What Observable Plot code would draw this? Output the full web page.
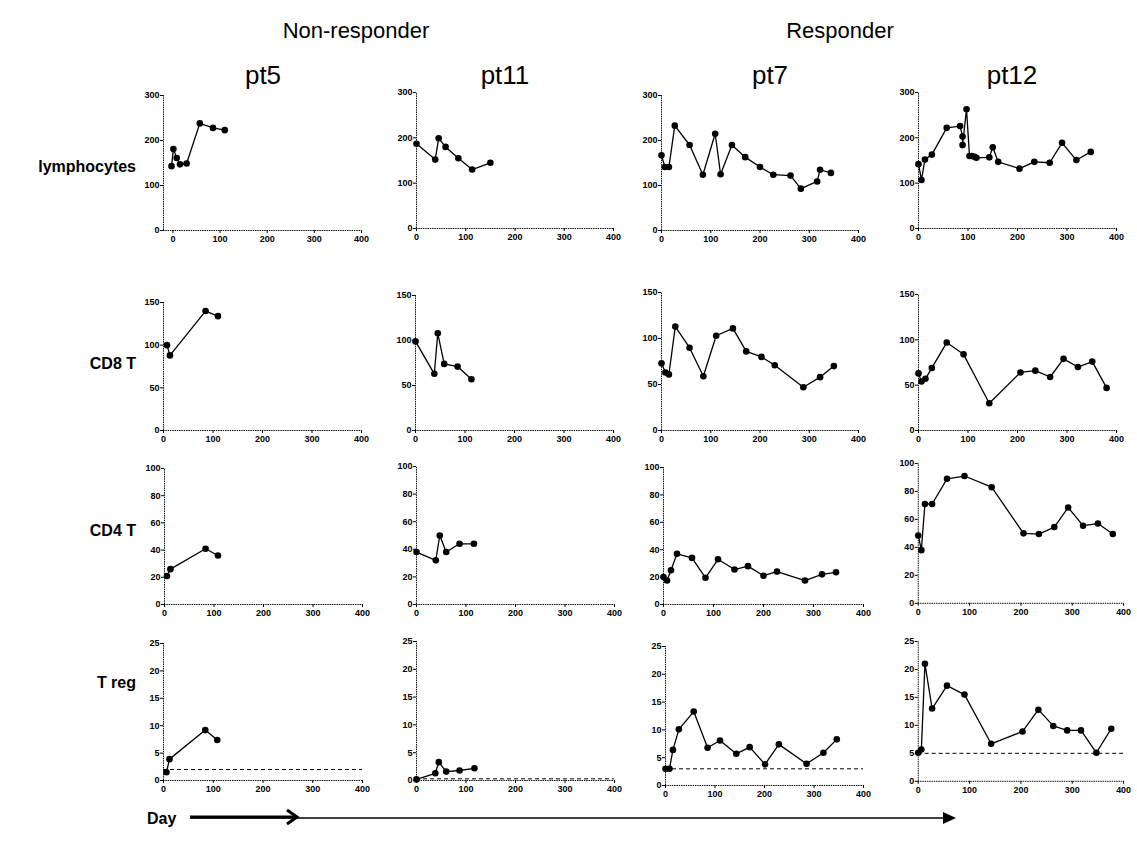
<!DOCTYPE html>
<html><head><meta charset="utf-8">
<script src="https://cdn.jsdelivr.net/npm/d3@7"></script>
<script src="https://cdn.jsdelivr.net/npm/@observablehq/plot@0.6"></script>
<style>
body{margin:0;background:#fff;}
#root{position:relative;width:1137px;height:850px;overflow:hidden;font-family:Arial,"Liberation Sans",sans-serif;}
.pnl{position:absolute;}
#overlay{position:absolute;left:0;top:0;}
</style></head><body><div id="root"></div>
<script>
// ---------- data ----------
const groups = ["Non-responder", "Responder"];
const patients = ["pt5", "pt11", "pt7", "pt12"];
const measures = ["lymphocytes", "CD8 T", "CD4 T", "T reg"];
const xTicks = [0, 100, 200, 300, 400];
const yTicksLymph = [0, 100, 200, 300];
const yTicksCD8 = [0, 50, 100, 150];
const yTicksCD4 = [0, 20, 40, 60, 80, 100];
const yTicksTreg = [0, 5, 10, 15, 20, 25];
const tregBaseline = [2.0, 0.3, 3.0, 5.0]; // pt5, pt11, pt7, pt12

// [day, value]
const pt5Lymph = [[-3,143],[1,181],[8,161],[15,147],[29,149],[57,238],[85,228],[110,223]];
const pt11Lymph = [[0,187],[38,152],[45,199],[59,180],[85,155],[113,130],[150,145]];
const pt7Lymph = [[0,167],[7,141],[15,141],[27,233],[57,190],[84,124],[109,215],[120,125],[143,190],[170,163],[200,141],[227,124],[262,122],[283,93],[316,109],[322,135],[344,128]];
const pt12Lymph = [[0,142],[6,107],[13,152],[27,163],[57,222],[84,226],[89,203],[89,184],[97,263],[103,160],[108,160],[113,158],[117,156],[143,157],[150,179],[161,147],[204,132],[234,147],[265,145],[290,189],[319,151],[348,169]];

const pt5CD8 = [[7,100],[13,88],[85,140],[110,134]];
const pt11CD8 = [[0,99],[38,63],[45,108],[58,74],[85,71],[113,57]];
const pt7CD8 = [[0,73],[8,63],[15,61],[28,113],[57,90],[85,59],[111,103],[145,111],[172,86],[203,80],[230,71],[288,47],[322,58],[350,70]];
const pt12CD8 = [[0,63],[6,54],[14,57],[27,69],[57,97],[91,84],[143,30],[206,64],[236,66],[266,59],[293,79],[322,70],[351,76],[380,47]];

const pt5CD4 = [[5,21],[12,26],[83,41],[108,36]];
const pt11CD4 = [[0,38],[39,32],[47,50],[60,38],[87,44],[116,44]];
const pt7CD4 = [[0,20],[7,17.5],[15,25],[27,37],[57,34],[84,19.5],[109,33],[142,25.5],[169,28],[200,21],[227,24],[283,17.5],[317,22],[345,23.5]];
const pt12CD4 = [[0,48.5],[6,38],[13,71],[27,71],[56,89],[90,91],[143,83],[205,50],[235,49.5],[265,54.5],[292,68.5],[321,55.5],[350,57],[379,49.5]];

const pt5Treg = [[6,1.5],[12,3.9],[84,9.2],[108,7.4]];
const pt11Treg = [[0,0.2],[38,1.3],[45,3.3],[60,1.6],[87,1.8],[117,2.2]];
const pt7Treg = [[0,3.0],[8,3.0],[15,6.4],[27,10.1],[57,13.3],[85,6.8],[110,8.1],[143,5.7],[170,6.9],[201,3.8],[229,7.4],[285,3.9],[319,5.9],[346,8.3]];
const pt12Treg = [[0,5.1],[6,5.7],[13,21],[27,13],[56,17.1],[90,15.5],[142,6.7],[203,8.9],[234,12.8],[263,9.9],[290,9.1],[317,9.1],[347,5.1],[376,9.4]];

// ---------- layout (pixel boxes of each panel's plotting frame) ----------
const rowsData = [
  [pt5Lymph, pt11Lymph, pt7Lymph, pt12Lymph],
  [pt5CD8, pt11CD8, pt7CD8, pt12CD8],
  [pt5CD4, pt11CD4, pt7CD4, pt12CD4],
  [pt5Treg, pt11Treg, pt7Treg, pt12Treg]
];
const rowTicks = [yTicksLymph, yTicksCD8, yTicksCD4, yTicksTreg];
const boxes = [ // [left, right, top, bottom]
  [[163,361,95,230],[416,613,92,228],[661,858,95,230],[918,1116,92,228]],
  [[163,361,302,430],[415,613,295,430],[661,858,292,430],[918,1116,294,430]],
  [[164,362,468,604],[416,614,466,604],[663,863,467,604],[918,1125,463,604]],
  [[163,362,643,780],[416,614,641,780],[665,863,646,785],[918,1125,641,782]]
];
const xMins = [[-20,0,0,0],[0,0,0,0],[0,0,0,0],[0,0,0,0]];

const root = document.getElementById("root");
const font = 'Arial, "Liberation Sans", sans-serif';

function panel(data, box, xMin, yT, baseline) {
  const [xl, xr, yt, yb] = box;
  const mL = 30, mR = 14, mT = 8, mB = 20;
  const yMax = yT[yT.length - 1];
  const marks = [
    Plot.ruleY([0], {x1: xMin, x2: 400, stroke: "#111", strokeWidth: 1, strokeDasharray: "1.5,0.8"}),
    Plot.ruleX([xMin], {y1: 0, y2: yMax, stroke: "#111", strokeWidth: 1, strokeDasharray: "1.5,0.8"}),
    Plot.axisX({ticks: xTicks, tickSize: 3, tickPadding: 2, label: null, fontWeight: "bold", fontSize: 9}),
    Plot.axisY({ticks: yT, tickSize: 3, tickPadding: 1, label: null, fontWeight: "bold", fontSize: 9})
  ];
  if (baseline != null) {
    marks.push(Plot.ruleY([baseline], {x1: xMin, x2: 400, stroke: "#000", strokeWidth: 1, strokeDasharray: "4,3"}));
  }
  marks.push(Plot.line(data, {x: d => d[0], y: d => d[1], stroke: "#000", strokeWidth: 1.3}));
  marks.push(Plot.dot(data, {x: d => d[0], y: d => d[1], r: 3.3, fill: "#000", stroke: "none"}));
  const svg = Plot.plot({
    width: (xr - xl) + mL + mR,
    height: (yb - yt) + mT + mB,
    marginLeft: mL, marginRight: mR, marginTop: mT, marginBottom: mB,
    x: {type: "linear", domain: [xMin, 400]},
    y: {type: "linear", domain: [0, yMax]},
    style: {fontFamily: font, fontSize: "9px", fontWeight: "bold", color: "#000", background: "transparent", overflow: "visible"},
    marks
  });
  const div = document.createElement("div");
  div.className = "pnl";
  div.style.left = (xl - mL) + "px";
  div.style.top = (yt - mT) + "px";
  div.appendChild(svg);
  root.appendChild(div);
}

for (let r = 0; r < 4; r++) {
  for (let c = 0; c < 4; c++) {
    panel(rowsData[r][c], boxes[r][c], xMins[r][c], rowTicks[r], r === 3 ? tregBaseline[c] : null);
  }
}

// ---------- text and annotation overlay ----------
const NS = "http://www.w3.org/2000/svg";
const ov = document.createElementNS(NS, "svg");
ov.setAttribute("id", "overlay");
ov.setAttribute("width", 1137);
ov.setAttribute("height", 850);
root.insertBefore(ov, root.firstChild);
function txt(s, x, y, size, weight, anchor) {
  const t = document.createElementNS(NS, "text");
  t.textContent = s;
  t.setAttribute("x", x); t.setAttribute("y", y);
  t.setAttribute("font-family", font);
  t.setAttribute("font-size", size);
  t.setAttribute("font-weight", weight);
  t.setAttribute("text-anchor", anchor);
  t.setAttribute("dominant-baseline", "central");
  ov.appendChild(t);
}
const groupX = [356, 840];
groups.forEach((g, i) => txt(g, groupX[i], 30, 22, "normal", "middle"));
const patX = [263, 505, 770, 1012];
patients.forEach((p, i) => txt(p, patX[i], 75, 26, "normal", "middle"));
const labelY = [166, 363, 530, 682];
measures.forEach((m, i) => txt(m, 136, labelY[i], 16, "bold", "end"));
txt("Day", 147, 818, 16, "bold", "start");

function path(d, attrs) {
  const p = document.createElementNS(NS, "path");
  p.setAttribute("d", d);
  for (const k in attrs) p.setAttribute(k, attrs[k]);
  ov.appendChild(p);
}
// long timeline arrow
path("M190,818 L945,818", {stroke: "#000", "stroke-width": 1.5, fill: "none"});
path("M943,812 L956,818 L943,824 Z", {fill: "#000"});
// short bold arrow
path("M190,817 L296,817", {stroke: "#000", "stroke-width": 3, fill: "none"});
path("M287,810 L297,817 L287,824", {stroke: "#000", "stroke-width": 3, fill: "none"});
</script></body></html>
